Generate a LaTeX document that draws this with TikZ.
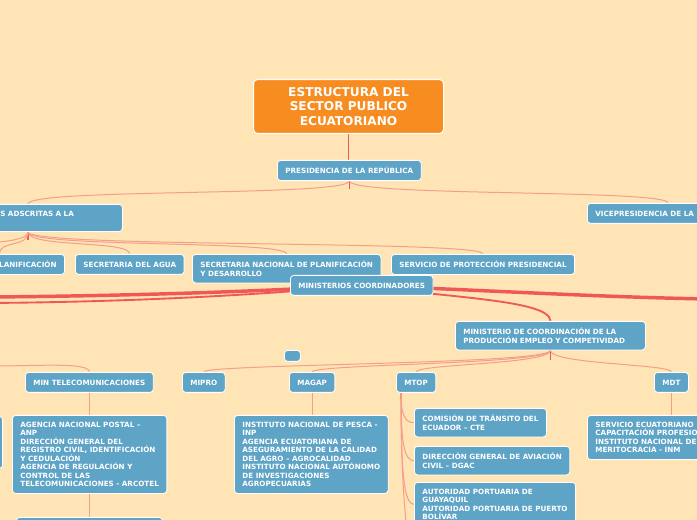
\documentclass[tikz,border=0pt]{standalone}
\usepackage{fontspec}
\setmainfont{DejaVu Sans}
\usetikzlibrary{backgrounds}
\definecolor{paper}{RGB}{255,228,181}
\definecolor{topicblue}{RGB}{94,164,199}
\definecolor{rootorange}{RGB}{247,140,32}
\definecolor{linkpink}{RGB}{244,158,140}
\definecolor{linkred}{RGB}{240,88,88}
\begin{document}
\begin{tikzpicture}[x=0.75pt,y=0.75pt,yscale=-1,xscale=1,
    topic/.style={anchor=north west, fill=topicblue, draw=white, line width=0.6pt, rounded corners=2.5pt, text=white, font=\fontsize{5.4}{6.35}\selectfont\bfseries, align=left, inner xsep=6pt, inner ysep=5pt, minimum height=15pt},
    roottopic/.style={anchor=north west, fill=rootorange, draw=white, line width=0.8pt, rounded corners=3pt, text=white, font=\fontsize{9.1}{10.9}\selectfont\bfseries, align=center, minimum width=142.5pt, minimum height=40.5pt},
    link/.style={draw=linkpink, line width=0.75pt},
    redlink/.style={draw=linkred, line width=0.9pt},
    medlink/.style={draw=linkred, line width=1.4pt},
    thicklink/.style={draw=linkred, line width=2.6pt}]
        \useasboundingbox (0,0) rectangle (697,520);
        \node (root) [roottopic] at (253,79) {ESTRUCTURA DEL\\SECTOR PUBLICO\\ECUATORIANO};
        \node (pres) [topic] at (277,160) {PRESIDENCIA DE LA REPÚBLICA};
        \node (adscritas) [topic, text width=85.5pt] at (-8,204) {S ADSCRITAS A LA\\\mbox{}};
        \node (vice) [topic] at (587,203) {VICEPRESIDENCIA DE LA};
        \node (lanif) [topic, anchor=north east, text width=85.5pt, align=right] at (65,254) {LANIFICACIÓN};
        \node (agua) [topic] at (75,254) {SECRETARIA DEL AGUA};
        \node (senplades) [topic] at (192,254) {SECRETARIA NACIONAL DE PLANIFICACIÓN\\Y DESARROLLO};
        \node (servicio) [topic] at (391,254) {SERVICIO DE PROTECCIÓN PRESIDENCIAL};
        \node (mincoord) [topic] at (290,275) {MINISTERIOS COORDINADORES};
        \node (mcpec) [topic, text width=130.5pt] at (455,321) {MINISTERIO DE COORDINACIÓN DE LA\\PRODUCCIÓN EMPLEO Y COMPETIVIDAD};
        \node (blank) [topic, minimum width=12pt, minimum height=8.25pt, inner sep=0pt] at (284,350) {};
        \node (mintel) [topic] at (25,372) {MIN TELECOMUNICACIONES};
        \node (mipro) [topic] at (182,372) {MIPRO};
        \node (magap) [topic] at (289,372) {MAGAP};
        \node (mtop) [topic] at (396,372) {MTOP};
        \node (mdt) [topic] at (654,372) {MDT};
        \node (edgebox) [topic, anchor=north east, minimum width=45pt, minimum height=39pt] at (3,416) {};
        \node (anp) [topic] at (12,415) {AGENCIA NACIONAL POSTAL –\\ANP\\DIRECCIÓN GENERAL DEL\\REGISTRO CIVIL, IDENTIFICACIÓN\\Y CEDULACIÓN\\AGENCIA DE REGULACIÓN Y\\CONTROL DE LAS\\TELECOMUNICACIONES - ARCOTEL};
        \node (telbelow) [topic, minimum width=109.5pt, minimum height=20pt] at (16,517) {};
        \node (inp) [topic] at (234,415) {INSTITUTO NACIONAL DE PESCA -\\INP\\AGENCIA ECUATORIANA DE\\ASEGURAMIENTO DE LA CALIDAD\\DEL AGRO – AGROCALIDAD\\INSTITUTO NACIONAL AUTÓNOMO\\DE INVESTIGACIONES\\AGROPECUARIAS};
        \node (cte) [topic] at (414,408) {COMISIÓN DE TRÁNSITO DEL\\ECUADOR – CTE};
        \node (dgac) [topic] at (414,446) {DIRECCIÓN GENERAL DE AVIACIÓN\\CIVIL – DGAC};
        \node (puertos) [topic] at (414,482) {AUTORIDAD PORTUARIA DE\\GUAYAQUIL\\AUTORIDAD PORTUARIA DE PUERTO\\BOLÍVAR};
        \node (secap) [topic] at (587,415) {SERVICIO ECUATORIANO\\CAPACITACIÓN PROFESIO\\INSTITUTO NACIONAL DE\\MERITOCRACIA - INM};

        \coordinate (adsc-in) at ([xshift=27pt]adscritas.north west);
        \coordinate (adsc-out) at ([xshift=27pt]adscritas.south west);
        \coordinate (adsc-off) at (-70,254);
        \coordinate (offL1) at (-10,297);
        \coordinate (offL2) at (-10,303);
        \coordinate (offR1) at (707,299);
        \coordinate (offL4) at (-10,366);
        \coordinate (mtop-out) at ([xshift=3.75pt]mtop.south west);
        \coordinate (mtop-more) at (412,560);

        \begin{scope}[on background layer]
        \fill[paper] (0,0) rectangle (697,520);
        \draw[redlink] (root.south) -- (root.south |- pres.north);
        \draw[redlink] (pres.south) -- ++(0,8);
        \draw[link] (pres.south) .. controls +(0,16) and +(0,-16) .. (adsc-in);
        \draw[link] (pres.south) .. controls +(0,16) and +(0,-14) .. ([xshift=60.75pt]vice.north west);
        \draw[redlink] (adsc-out) -- ++(0,8);
        \draw[link] (adsc-out) .. controls +(0,16) and +(0,-14) .. (adsc-off);
        \draw[link] (adsc-out) .. controls +(0,16) and +(0,-14) .. (lanif.north);
        \draw[link] (adsc-out) .. controls +(0,16) and +(0,-14) .. (agua.north);
        \draw[link] (adsc-out) .. controls +(0,16) and +(0,-14) .. (senplades.north);
        \draw[link] (adsc-out) .. controls +(0,16) and +(0,-14) .. (servicio.north);
        \draw[thicklink] (mincoord.center) .. controls (250,292) and (120,296) .. (offL1);
        \draw[medlink] (mincoord.center) .. controls (250,296) and (120,302) .. (offL2);
        \draw[thicklink] (mincoord.center) .. controls (500,291) and (600,297) .. (offR1);
        \draw[medlink] (mincoord.center) .. controls (450,298) and (550,300) .. (mcpec.north);
        \draw[redlink] (mcpec.south) -- ++(0,10);
        \draw[link] (mcpec.south) .. controls +(0,14) and +(0,-8) .. (mipro.north);
        \draw[link] (mcpec.south) .. controls +(0,14) and +(0,-8) .. (magap.north);
        \draw[link] (mcpec.south) .. controls +(0,14) and +(0,-8) .. (mtop.north);
        \draw[link] (mcpec.south) .. controls +(0,14) and +(0,-8) .. (mdt.north);
        \draw[link] (offL4) .. controls (40,366) and (89,362) .. (mintel.north);
        \draw[link] (mintel.south) -- (mintel.south |- anp.north);
        \draw[link] (anp.south) -- (anp.south |- telbelow.north);
        \draw[link] (magap.south) -- (magap.south |- inp.north);
        \draw[link] (mdt.south) -- (mdt.south |- secap.north);
        \draw[redlink] (mtop-out) -- ++(0,6);
        \draw[link] (mtop-out) .. controls +(0,20) and +(-10,0) .. (cte.west);
        \draw[link] (mtop-out) .. controls +(0,50) and +(-10,0) .. (dgac.west);
        \draw[link] (mtop-out) .. controls +(0,80) and +(-10,0) .. (puertos.west);
        \draw[link] (mtop-out) .. controls +(0,100) and +(-5,-20) .. (mtop-more);
        \end{scope}
    \end{tikzpicture}
\end{document}
